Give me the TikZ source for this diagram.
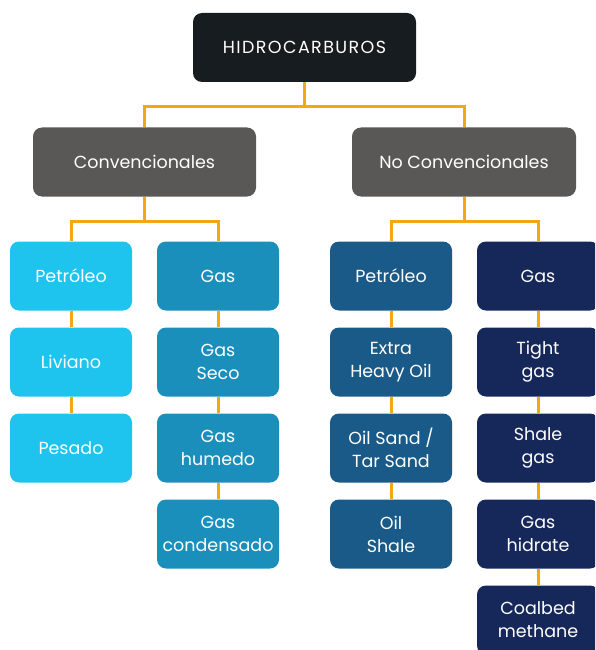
\documentclass[tikz,border=0pt]{standalone}
\usepackage{fontspec}
\setmainfont{Poppins}
\definecolor{hcblack}{HTML}{171C21}
\definecolor{hcgray}{HTML}{595856}
\definecolor{convpet}{HTML}{1EC3EE}
\definecolor{convgas}{HTML}{1A8FBC}
\definecolor{ncpet}{HTML}{1A5A88}
\definecolor{ncgas}{HTML}{16275A}
\definecolor{hcorange}{HTML}{F5A712}
\begin{document}
\begin{tikzpicture}[x=1pt,y=-1pt,
  box/.style={rounded corners=9pt,text=white,align=center,minimum width=122pt,
    minimum height=69pt,inner sep=0pt,font=\fontsize{17.5}{23}\selectfont},
  link/.style={draw=hcorange,line width=3pt}]
\useasboundingbox (0,0) rectangle (595,650);
\clip (0,0) rectangle (595,650);
% joints of the orange tree
\coordinate (j0) at (304.5,107);
\coordinate (j1) at (144.5,221);
\coordinate (j2) at (464,221);
\node[box,fill=hcblack,minimum width=223pt] (hc) at (304.5,47.5)
  {\addfontfeature{LetterSpace=8}HIDROCARBUROS};
\node[box,fill=hcgray,minimum width=223pt] (conv) at (144.5,162) {Convencionales};
\node[box,fill=hcgray,minimum width=224pt] (noconv) at (464,162) {No Convencionales};
% convencionales
\node[box,fill=convpet] (cp1) at (71,276) {Petróleo};
\node[box,fill=convpet] (cp2) at (71,362) {Liviano};
\node[box,fill=convpet] (cp3) at (71,448) {Pesado};
\node[box,fill=convgas] (cg1) at (218,276) {Gas};
\node[box,fill=convgas] (cg2) at (218,362) {Gas\\Seco};
\node[box,fill=convgas] (cg3) at (218,448) {Gas\\humedo};
\node[box,fill=convgas] (cg4) at (218,534) {Gas\\condensado};
% no convencionales
\node[box,fill=ncpet] (np1) at (391,276) {Petróleo};
\node[box,fill=ncpet] (np2) at (391,362) {Extra\\Heavy Oil};
\node[box,fill=ncpet] (np3) at (391,448) {Oil Sand /\\Tar Sand};
\node[box,fill=ncpet] (np4) at (391,534) {Oil\\Shale};
\node[box,fill=ncgas] (ng1) at (538,276) {Gas};
\node[box,fill=ncgas] (ng2) at (538,362) {Tight\\gas};
\node[box,fill=ncgas] (ng3) at (538,448) {Shale\\gas};
\node[box,fill=ncgas] (ng4) at (538,534) {Gas\\hidrate};
\node[box,fill=ncgas] (ng5) at (538,620) {Coalbed\\methane};
% connectors
\draw[link] (hc) -- (j0);
\draw[link] (j0) -| (conv);
\draw[link] (j0) -| (noconv);
\draw[link] (conv) -- (j1);
\draw[link] (j1) -| (cp1);
\draw[link] (j1) -| (cg1);
\draw[link] (noconv) -- (j2);
\draw[link] (j2) -| (np1);
\draw[link] (j2) -| (ng1);
\foreach \a/\b in {cp1/cp2,cp2/cp3,cg1/cg2,cg2/cg3,cg3/cg4,np1/np2,np2/np3,np3/np4,ng1/ng2,ng2/ng3,ng3/ng4,ng4/ng5}
  \draw[link] (\a) -- (\b);
\end{tikzpicture}
\end{document}
